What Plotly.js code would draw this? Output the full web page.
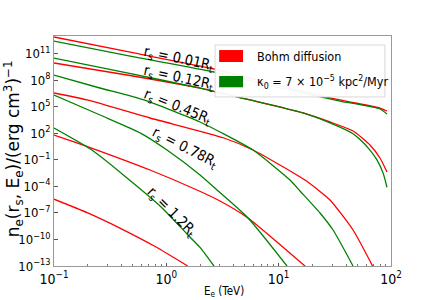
<!DOCTYPE html>
<html>
<head>
<meta charset="utf-8">
<script src="https://cdn.plot.ly/plotly-3.0.1.min.js"></script>
<style>html,body{margin:0;padding:0;background:#fff;}#chart{width:436px;height:300px;}</style>
</head>
<body>
<div id="chart"></div>
<script>
// Values, stored as log10 exponents
// r_s = 0.01 R_t
const logE_001_bohm = [-1, -0.288, 0.424, 0.985, 1.546, 1.902, 1.964];
const logN_001_bohm = [12.89, 11.08, 9.27, 7.46, 5.77, 4.86, 4.52];
const logE_001_k0   = [-1, -0.288, 0.424, 0.985, 1.546, 1.902, 1.964];
const logN_001_k0   = [12.43, 10.63, 8.93, 7.23, 5.65, 4.75, 4.18];
// r_s = 0.12 R_t
const logE_012_bohm = [-1, -0.35, 0.3, 0.594, 0.745, 1.217, 1.457, 1.662, 1.813, 1.902, 1.964];
const logN_012_bohm = [9.95, 8.59, 7.12, 6.22, 5.77, 4.30, 3.28, 2.26, 0.68, -0.79, -2.37];
const logE_012_k0   = [-1, -0.35, 0.3, 0.594, 0.745, 1.217, 1.457, 1.662, 1.724, 1.80, 1.875, 1.93, 1.964];
const logN_012_k0   = [10.51, 8.82, 7.12, 6.22, 5.77, 4.30, 3.17, 1.95, 1.3, 0.3, -1.0, -2.5, -4.1];
// r_s = 0.45 R_t
const logE_045_bohm = [-1, -0.706, -0.145, 0.513, 0.772, 1.234, 1.341, 1.457, 1.662, 1.84];
const logN_045_bohm = [6.56, 5.77, 3.73, 1.47, 0.11, -3.28, -4.3, -5.54, -8.93, -13.1];
const logE_045_k0   = [-1, -0.6, -0.199, 0.3, 0.478, 0.772, 1.101, 1.19, 1.368, 1.484, 1.662];
const logN_045_k0   = [8.59, 7.15, 5.77, 3.28, 2.15, 0.11, -3.28, -4.52, -7.01, -8.93, -13.0];
// r_s = 0.78 R_t
const logE_078_bohm = [-1, -0.822, -0.617, -0.145, 0.273, 0.478, 0.727, 0.985, 1.243];
const logN_078_bohm = [1.81, 1.02, 0.11, -2.15, -4.41, -5.65, -7.57, -10.29, -13.1];
const logE_078_k0   = [-1, -0.59, -0.226, 0.006, 0.3, 0.451, 0.727, 1.074];
const logN_078_k0   = [6.33, 4.07, 2.0, 0.11, -2.71, -4.41, -7.57, -13.0];
// r_s = 1.2 R_t
const logE_12_bohm  = [-1, -0.7, -0.4, -0.1, 0.19];
const logN_12_bohm  = [-5.45, -7.0, -8.8, -10.8, -13.0];
const logE_12_k0    = [-1, -0.662, -0.35, -0.056, 0.184, 0.3, 0.424];
const logN_12_k0    = [2.60, 0.11, -3.05, -6.22, -9.38, -10.9, -13.0];

const xTickVals = [0.1, 1, 10, 100];
const xTickText = ['10<sup>\u22121</sup>', '10<sup>0</sup>', '10<sup>1</sup>', '10<sup>2</sup>'];
const yTickExp = [-13, -10, -7, -4, -1, 2, 5, 8, 11];
const yTickText = ['10<sup>\u221213</sup>', '10<sup>\u221210</sup>', '10<sup>\u22127</sup>', '10<sup>\u22124</sup>',
                   '10<sup>\u22121</sup>', '10<sup>2</sup>', '10<sup>5</sup>', '10<sup>8</sup>', '10<sup>11</sup>'];

const curveLabels = ['r<sub>s</sub> = 0.01R<sub>t</sub>', 'r<sub>s</sub> = 0.12R<sub>t</sub>',
                     'r<sub>s</sub> = 0.45R<sub>t</sub>', 'r<sub>s</sub> = 0.78R<sub>t</sub>',
                     'r<sub>s</sub> = 1.2R<sub>t</sub>'];
const legendNames = ['Bohm diffusion', '\u03ba<sub>0</sub> = 7 \u00d7 10<sup>\u22125</sup> kpc<sup>2</sup>/Myr'];

const RED = '#ff0000', GREEN = '#008000';
const series = [
  [logE_001_bohm, logN_001_bohm, RED], [logE_001_k0, logN_001_k0, GREEN],
  [logE_012_bohm, logN_012_bohm, RED], [logE_012_k0, logN_012_k0, GREEN],
  [logE_045_bohm, logN_045_bohm, RED], [logE_045_k0, logN_045_k0, GREEN],
  [logE_078_bohm, logN_078_bohm, RED], [logE_078_k0, logN_078_k0, GREEN],
  [logE_12_bohm, logN_12_bohm, RED], [logE_12_k0, logN_12_k0, GREEN]
];
const traces = series.map(s => ({
  type: 'scatter', mode: 'lines',
  x: s[0].map(v => Math.pow(10, v)), y: s[1].map(v => Math.pow(10, v)),
  line: {color: s[2], width: 1.3, shape: 'spline', smoothing: 0.6},
  showlegend: false, hoverinfo: 'skip'
}));

const FONT = 'DejaVu Sans, sans-serif';
const FONTC = 'DejaVu Sans Condensed, DejaVu Sans, sans-serif';
const labelPos = [[0.11, 10.4, 12], [0.11, 8.25, 12], [0.10, 4.97, 22], [0.165, 0.3, 27], [0.045, -6.9, 45]];
const annotations = curveLabels.map((t, i) => ({
  text: t, xref: 'x', yref: 'y', x: labelPos[i][0], y: labelPos[i][1], showarrow: false,
  textangle: labelPos[i][2], xanchor: 'center', yanchor: 'middle',
  font: {family: FONTC, size: 14.5, color: '#000'}
}));
annotations.push({text: legendNames[0], xref: 'paper', yref: 'paper', x: 0.596, y: 0.909,
  xanchor: 'left', yanchor: 'middle', showarrow: false, font: {family: FONTC, size: 12.5, color: '#000'}});
annotations.push({text: legendNames[1], xref: 'paper', yref: 'paper', x: 0.596, y: 0.802,
  xanchor: 'left', yanchor: 'middle', showarrow: false, font: {family: FONTC, size: 12.5, color: '#000'}});
annotations.push({text: 'n<sub>e</sub>(r<sub>s</sub>, E<sub>e</sub>)/(erg cm<sup>3</sup>)<sup>\u22121</sup>',
  xref: 'paper', yref: 'paper', x: -0.12, y: 0.51, textangle: -90, showarrow: false,
  xanchor: 'center', yanchor: 'middle', font: {family: FONT, size: 17, color: '#000'}});
annotations.push({text: 'E<sub>e</sub> (TeV)', xref: 'paper', yref: 'paper', x: 0.504, y: -0.109,
  showarrow: false, xanchor: 'center', yanchor: 'middle', font: {family: FONTC, size: 11.5, color: '#000'}});

const shapes = [
  {type: 'rect', xref: 'paper', yref: 'paper', x0: 0.478, x1: 0.982, y0: 0.735, y1: 0.961,
   fillcolor: 'rgba(255,255,255,0.95)', line: {color: '#d8d8d8', width: 1}, layer: 'above'},
  {type: 'rect', xref: 'paper', yref: 'paper', x0: 0.490, x1: 0.561, y0: 0.887, y1: 0.939,
   fillcolor: RED, line: {width: 0}, layer: 'above'},
  {type: 'rect', xref: 'paper', yref: 'paper', x0: 0.490, x1: 0.561, y0: 0.777, y1: 0.826,
   fillcolor: GREEN, line: {width: 0}, layer: 'above'}
];

const minorX = [];
[0.1, 1, 10].forEach(d => { for (let k = 2; k <= 9; k++) minorX.push(d * k); });

const layout = {
  width: 436, height: 300,
  margin: {l: 54, r: 45, t: 36, b: 34},
  paper_bgcolor: '#fff', plot_bgcolor: '#fff',
  showlegend: false,
  font: {family: FONT, size: 13, color: '#000'},
  xaxis: {type: 'log', range: [-1, 2], showgrid: false, zeroline: false,
    tickmode: 'array', tickvals: xTickVals, ticktext: xTickText,
    ticks: 'inside', ticklen: 3.5, tickcolor: '#555',
    minor: {tickmode: 'array', tickvals: minorX, ticks: 'inside', ticklen: 2, tickcolor: '#777', showgrid: false},
    showline: true, mirror: true, linecolor: '#999', linewidth: 1,
    tickfont: {family: FONTC, size: 14, color: '#000'}},
  yaxis: {type: 'log', range: [-13, 13], showgrid: false, zeroline: false,
    tickmode: 'array', tickvals: yTickExp.map(v => Math.pow(10, v)), ticktext: yTickText,
    ticks: 'inside', ticklen: 3.5, tickcolor: '#555',
    showline: true, mirror: true, linecolor: '#999', linewidth: 1,
    tickfont: {family: FONTC, size: 13, color: '#000'}},
  annotations: annotations,
  shapes: shapes
};

Plotly.newPlot('chart', traces, layout, {staticPlot: true, displayModeBar: false});
</script>
</body>
</html>
